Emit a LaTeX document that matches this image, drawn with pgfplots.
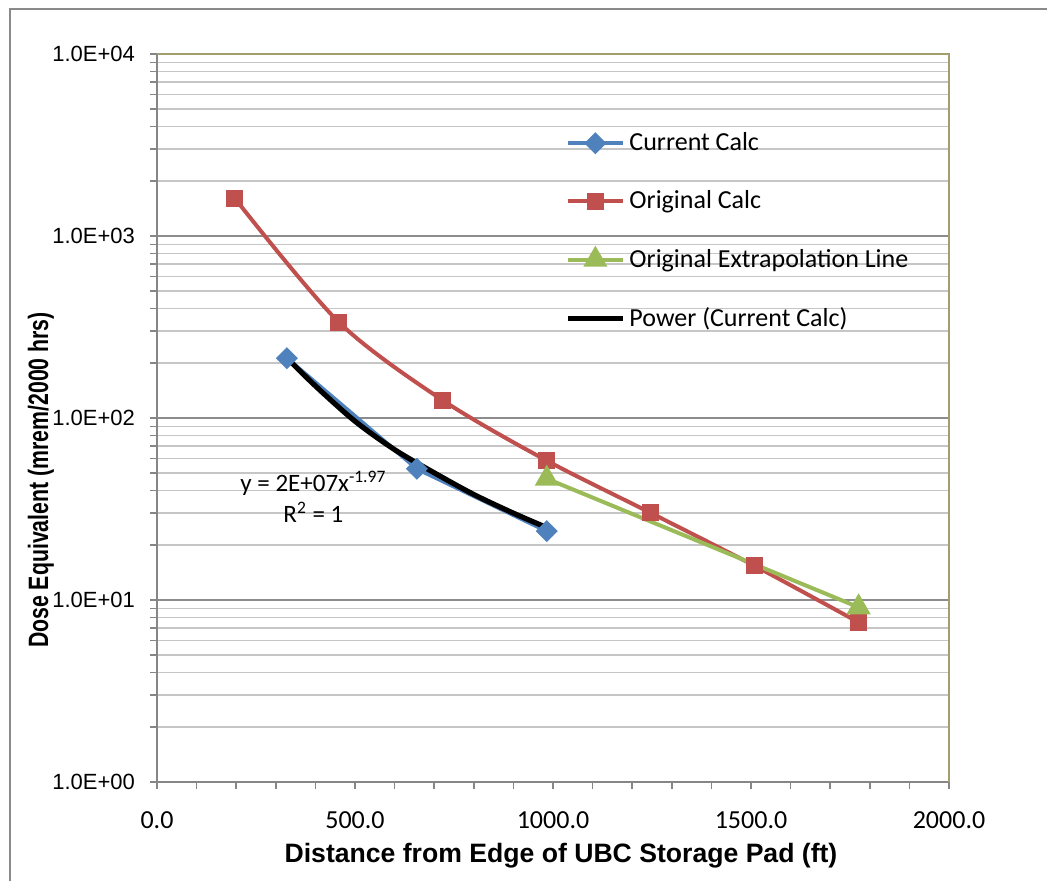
\documentclass[border=0pt]{standalone}
\usepackage{fontspec}
\setmainfont{Carlito}
\newfontfamily\arialf{Liberation Sans}
\usepackage{pgfplots}
\pgfplotsset{compat=1.18}

\definecolor{xlblue}{HTML}{4F81BD}
\definecolor{xlred}{HTML}{C0504D}
\definecolor{xlgreen}{HTML}{9BBB59}
\definecolor{axisgray}{HTML}{868686}
\definecolor{majgrid}{HTML}{8C8C8C}
\definecolor{mingrid}{HTML}{C6C6C6}
\definecolor{boxolive}{HTML}{A39E6E}
\definecolor{framegray}{HTML}{8A8A8A}

\begin{document}
\begin{tikzpicture}
\path[use as bounding box] (0,0) rectangle (523.5pt,440.5pt);
\draw[framegray, line width=1.2pt] (5pt,0) -- (5pt,436pt) -- (523.5pt,436pt);

\begin{axis}[
    at={(78.5pt,49.5pt)}, anchor=south west,
    width=396pt, height=364pt, scale only axis,
    ymode=log,
    xmin=0, xmax=2000, ymin=1, ymax=10000,
    axis lines*=left,
    axis line style={draw=axisgray, line width=1pt, -},
    xtick={0,500,1000,1500,2000},
    xticklabels={0.0,500.0,1000.0,1500.0,2000.0},
    minor xtick={100,200,300,400,600,700,800,900,1100,1200,1300,1400,1600,1700,1800,1900},
    ytick={1,10,100,1000,10000},
    yticklabels={1.0E+00,1.0E+01,1.0E+02,1.0E+03,1.0E+04},
    minor ytick={2,3,...,9,20,30,...,90,200,300,...,900,2000,3000,...,9000},
    tick align=outside,
    major tick length=3.5pt, minor tick length=3.5pt,
    every tick/.style={draw=axisgray, line width=0.8pt},
    ymajorgrids, yminorgrids,
    major grid style={draw=majgrid, line width=0.8pt},
    minor grid style={draw=mingrid, line width=0.8pt},
    xticklabel style={font=\fontsize{13}{15}\selectfont, yshift=-8pt},
    yticklabel style={font=\arialf\fontsize{11}{13}\selectfont, xshift=-4pt},
    clip=false,
    legend style={at={(0.515,0.898)}, anchor=north west, draw=none, fill=none,
        inner sep=0pt, row sep=14.6pt,
        font=\fontsize{13}{15}\selectfont},
    legend cell align=left,
    legend image code/.code={\draw[#1, mark repeat=2, mark phase=2]
        plot coordinates {(0pt,0pt) (13.75pt,0pt) (27.5pt,0pt)};},
]

\addplot[xlblue, line width=2pt, mark=square*,
    mark options={rotate=45, solid, scale=1}, mark size=2.9pt] coordinates {
    (328.1, 213)
    (656.2, 52.6)
    (984.3, 23.9)
};
\addlegendentry{Current Calc}

\addplot[xlred, line width=2pt, smooth, mark=square*, mark size=3.25pt] coordinates {
    (196.9, 1607)
    (459.3, 336)
    (721.8, 125)
    (984.3, 58.3)
    (1246.7, 30.1)
    (1509.2, 15.4)
    (1771.7, 7.54)
};
\addlegendentry{Original Calc}

\addplot[xlgreen, line width=2pt, mark=triangle*, mark size=5pt] coordinates {
    (984.3, 46.4)
    (1771.7, 9.12)
};
\addlegendentry{Original Extrapolation Line}

\addplot[black, line width=2.6pt, smooth] coordinates {
    (328.1, 214)
    (400, 150)
    (500, 96)
    (600, 67)
    (700, 50)
    (800, 38)
    (900, 30)
    (984.3, 25)
};
\addlegendentry{Power (Current Calc)}

\draw[boxolive, line width=1pt] (rel axis cs:0,1) -- (rel axis cs:1,1) -- (rel axis cs:1,0);

\node[align=center, font=\fontsize{12.5}{15.5}\selectfont] at (axis cs:395,37)
    {y = 2E+07x\textsuperscript{-1.97}\\R\textsuperscript{2} = 1};
\end{axis}

\node[rotate=90, font=\arialf\bfseries\fontsize{14}{16}\selectfont]
    at (20.5pt,200.5pt) {\scalebox{0.76}[1]{Dose Equivalent (mrem/2000 hrs)}};
\node[font=\arialf\bfseries\fontsize{13.3}{15}\selectfont]
    at (280.5pt,12.5pt) {Distance from Edge of UBC Storage Pad (ft)};
\end{tikzpicture}
\end{document}
